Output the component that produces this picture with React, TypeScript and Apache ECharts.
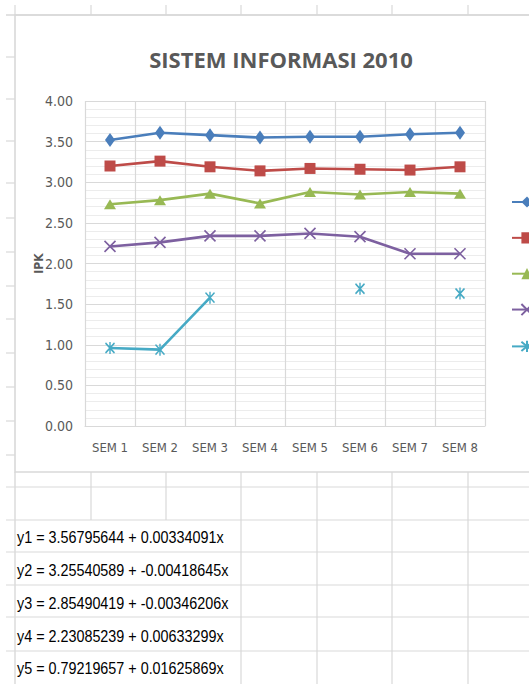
import React, { useEffect, useRef } from "react";
import * as echarts from "echarts";

const categories = ["SEM 1", "SEM 2", "SEM 3", "SEM 4", "SEM 5", "SEM 6", "SEM 7", "SEM 8"];
const seriesNames = ["Series1", "Series2", "Series3", "Series4", "Series5"];
const s1 = [3.52, 3.61, 3.58, 3.55, 3.56, 3.56, 3.59, 3.61];
const s2 = [3.2, 3.26, 3.19, 3.14, 3.17, 3.16, 3.15, 3.19];
const s3 = [2.73, 2.78, 2.86, 2.74, 2.88, 2.85, 2.88, 2.86];
const s4 = [2.21, 2.26, 2.34, 2.34, 2.37, 2.33, 2.12, 2.12];
const s5 = [0.96, 0.94, 1.58, null, null, 1.69, null, 1.63];
const colors = ["#4A7EBB", "#BE4B48", "#98B954", "#7D60A0", "#46AAC5"];
const equations = [
  "y1 = 3.56795644 + 0.00334091x",
  "y2 = 3.25540589 + -0.00418645x",
  "y3 = 2.85490419 + -0.00346206x",
  "y4 = 2.23085239 + 0.00633299x",
  "y5 = 0.79219657 + 0.01625869x",
];
const title = "SISTEM INFORMASI 2010";
const yAxisName = "IPK";

const colLines = [91, 166, 241, 317, 392, 468];
const rowTicks = [57, 99, 141, 183, 218, 252, 286, 319, 353, 387, 421, 455];
const lowerRows = [487, 520, 552, 585, 617, 651];
const eqRowsY = [537, 570, 603, 636, 668];

const FONT = '"Liberation Sans Narrow", "DejaVu Sans Condensed", "Liberation Sans", sans-serif';
const GRID = "#d9d9d9";

const xPath = "path://M0,0 L10,10 M10,0 L0,10";
const starPath = "path://M0,0 L10,10 M10,0 L0,10 M5,-1 L5,11";

export default function App() {
  const ref = useRef<HTMLDivElement>(null);
  useEffect(() => {
    if (!ref.current) return;
    const chart = echarts.init(ref.current, null, { renderer: "svg" });
    const datas = [s1, s2, s3, s4, s5];
    const symbols = ["diamond", "rect", "triangle", xPath, starPath];
    const sizes: any[] = [[10, 14], [11, 11], [12, 10], [11, 11], [9, 12]];
    const series = datas.map((d, i) => ({
      name: seriesNames[i],
      type: "line",
      data: d,
      symbol: symbols[i],
      symbolSize: sizes[i],
      showSymbol: true,
      showAllSymbol: true,
      connectNulls: false,
      lineStyle: { color: colors[i], width: 2.6 },
      itemStyle:
        i >= 3
          ? { color: "rgba(0,0,0,0)", borderColor: colors[i], borderWidth: 1.6 }
          : { color: colors[i], borderColor: colors[i], borderWidth: 0 },
      z: 3,
    }));

    const graphics: any[] = [];
    graphics.push({
      type: "rect",
      shape: { x: 15, y: 15, width: 540, height: 457 },
      style: { fill: "none", stroke: GRID, lineWidth: 1.6 },
      z: -1,
    });
    [15, ...colLines].forEach((x) =>
      graphics.push({ type: "line", shape: { x1: x, y1: 5, x2: x, y2: 15 }, style: { stroke: GRID, lineWidth: 1.2 } })
    );
    graphics.push({ type: "line", shape: { x1: 6, y1: 15, x2: 529, y2: 15 }, style: { stroke: GRID, lineWidth: 1.6 } });
    rowTicks.forEach((y) =>
      graphics.push({ type: "line", shape: { x1: 6, y1: y, x2: 15, y2: y }, style: { stroke: GRID, lineWidth: 1.2 } })
    );
    graphics.push({ type: "line", shape: { x1: 15, y1: 472, x2: 15, y2: 684 }, style: { stroke: GRID, lineWidth: 1.4 } });
    lowerRows.forEach((y) =>
      graphics.push({ type: "line", shape: { x1: 6, y1: y, x2: 529, y2: y }, style: { stroke: GRID, lineWidth: 1.2 } })
    );
    colLines.forEach((x) =>
      graphics.push({
        type: "line",
        shape: { x1: x, y1: 472, x2: x, y2: x < 200 ? 520 : 684 },
        style: { stroke: GRID, lineWidth: 1.2 },
      })
    );
    equations.forEach((t, i) =>
      graphics.push({
        type: "text",
        x: 17,
        y: eqRowsY[i],
        scaleX: 0.845,
        style: {
          text: t,
          fill: "#000",
          font: '17px "Liberation Sans", Arial, sans-serif',
          textVerticalAlign: "middle",
          textAlign: "left",
        },
      })
    );

    chart.setOption({
      animation: false,
      backgroundColor: "#ffffff",
      color: colors,
      title: {
        text: title,
        left: 276,
        top: 43,
        textAlign: "center",
        textStyle: { color: "#595959", fontFamily: "Open Sans", fontWeight: "bold", fontSize: 22 },
      },
      legend: {
        orient: "vertical",
        left: 506,
        top: 190,
        itemWidth: 30,
        itemHeight: 14,
        itemGap: 23.25,
        formatter: () => "",
        data: seriesNames,
      },
      grid: { left: 85, top: 101, width: 400, height: 325, containLabel: false },
      xAxis: {
        type: "category",
        data: categories,
        boundaryGap: true,
        axisLine: { show: true, lineStyle: { color: GRID, width: 1.2 } },
        axisTick: { show: false },
        splitLine: { show: true, lineStyle: { color: GRID, width: 1.2 } },
        axisLabel: { color: "#595959", fontFamily: FONT, fontSize: 13, margin: 15 },
      },
      yAxis: {
        type: "value",
        min: 0,
        max: 4,
        interval: 0.5,
        name: yAxisName,
        nameLocation: "middle",
        nameGap: 40,
        nameRotate: 90,
        nameMoveOverlap: false,
        nameTextStyle: { color: "#595959", fontFamily: FONT, fontSize: 12, fontWeight: "bold" },
        axisLine: { show: false },
        axisTick: { show: false },
        axisLabel: {
          color: "#595959",
          fontFamily: FONT,
          fontSize: 14,
          margin: 12,
          formatter: (v: number) => v.toFixed(2),
        },
        splitLine: { show: true, lineStyle: { color: GRID, width: 1.2 } },
        minorTick: { show: false, splitNumber: 5 },
        minorSplitLine: { show: true, lineStyle: { color: "#ececec", width: 1 } },
      },
      series,
      graphic: graphics,
    });
    return () => chart.dispose();
  }, []);
  return (
    <div
      ref={ref}
      style={{ position: "fixed", left: 0, top: 0, width: 529, height: 684, overflow: "hidden" }}
    />
  );
}
